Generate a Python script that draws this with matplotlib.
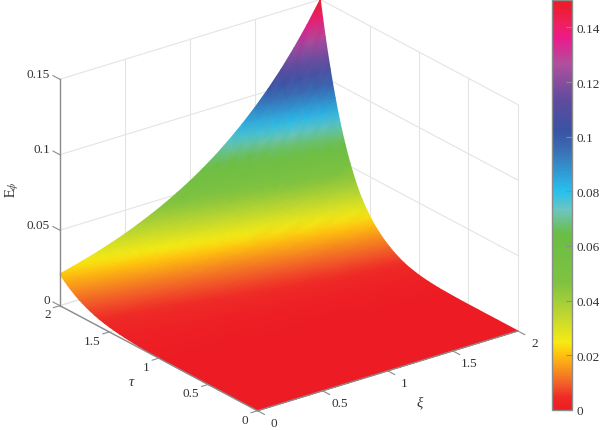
import numpy as np
import matplotlib
matplotlib.use("Agg")
import matplotlib.pyplot as plt
from matplotlib.cm import ScalarMappable
from matplotlib.colors import LinearSegmentedColormap, Normalize
from mpl_toolkits.mplot3d import proj3d

plt.rcParams['font.family'] = ['Liberation Serif', 'DejaVu Serif']
plt.rcParams['mathtext.fontset'] = 'stix'

# E along the back edge tau = 2
xi = [0, .1, .2, .3, .4, .5, .6, .7, .8, .9, 1, 1.1, 1.2, 1.3, 1.4, 1.5, 1.6, 1.7, 1.8, 1.9, 2]
e_back = [.021, .0232, .0256, .0282, .0311, .0343, .0379, .0418, .0461, .0509, .0561,
          .0619, .0683, .0754, .0832, .0918, .1013, .1117, .1233, .136, .15]

# share of that edge value reached at each tau
tau = [0, .2, .4, .6, .8, .9, 1, 1.1, 1.15, 1.2, 1.25, 1.3, 1.35, 1.4, 1.45, 1.5, 1.55, 1.6,
       1.65, 1.7, 1.725, 1.75, 1.775, 1.8, 1.825, 1.85, 1.875, 1.9, 1.925, 1.95, 1.975, 2]
tau_share = [0, 0, 0, .0004, .0035, .0075, .014, .025, .033, .043, .055, .07, .087, .107,
             .131, .16, .194, .2345, .2862, .3475, .382, .42, .46, .504, .551, .602, .657,
             .717, .78, .848, .921, 1]

xi_ticks = [0, .5, 1, 1.5, 2]
tau_ticks = [0, .5, 1, 1.5, 2]
z_ticks = [0, .05, .1, .15]
tick_names = ['0', '0.5', '1', '1.5', '2']
z_names = ['0', '0.05', '0.1', '0.15']
cbar_ticks = [0, .02, .04, .06, .08, .1, .12, .14]
cbar_names = ['0', '0.02', '0.04', '0.06', '0.08', '0.1', '0.12', '0.14']

# colormap
cmap_pos = [0, .03, .06, .1, .135, .165, .23, .31, .43, .488, .533, .633, .68, .755, .845, .907, .94, .985, 1]
cmap_col = ['#ed1c24', '#ee2a26', '#f15a29', '#f7941d', '#ffc20e', '#f6eb14', '#bfd730', '#7fc241',
            '#6abd45', '#6dc5c0', '#27c0ee', '#3a6fb5', '#3953a4', '#5f4b9e', '#b04f9e', '#ec1a8c',
            '#ee2060', '#ed1c30', '#ed1c24']
cmap = LinearSegmentedColormap.from_list('bands', list(zip(cmap_pos, cmap_col)), N=512)
norm = Normalize(0, .15)

grey = '#8c8c8c'
wall = '#e4e4e4'
text = '#333333'

fig = plt.figure(figsize=(6, 4.31), dpi=100)


def box_axes():
    ax = fig.add_axes([27.5 / 600, -36.5 / 431, 509 / 600, 509 / 431], projection='3d',
                      proj_type='ortho', computed_zorder=False)
    ax.set_box_aspect((1, 1, .757))
    ax.view_init(elev=23.8, azim=-127.2)
    ax.set_xlim(0, 2)
    ax.set_ylim(0, 2)
    ax.set_zlim(0, .15)
    ax.set_xticks([])
    ax.set_yticks([])
    ax.set_zticks([])
    ax.set_axis_off()
    ax.patch.set_alpha(0)
    return ax


back = box_axes()

# light grid on the two back walls and the floor
for t in xi_ticks:
    back.plot([t, t], [2, 2], [0, .15], color=wall, lw=.8)
    back.plot([t, t], [0, 2], [0, 0], color=wall, lw=.8)
for t in tau_ticks:
    back.plot([2, 2], [t, t], [0, .15], color=wall, lw=.8)
    back.plot([0, 2], [t, t], [0, 0], color=wall, lw=.8)
for t in z_ticks:
    back.plot([0, 2], [2, 2], [t, t], color=wall, lw=.8)
    back.plot([2, 2], [0, 2], [t, t], color=wall, lw=.8)

fig.canvas.draw()


def to_pixels(x, y, z):
    # where the box's own view puts a data point, in figure pixels
    px, py, _ = proj3d.proj_transform(np.ravel(x), np.ravel(y), np.ravel(z), back.get_proj())
    return back.transData.transform(np.column_stack([px, py]))


# overlay in pixel coordinates for the gouraud surface and the labels
flat = fig.add_axes([0, 0, 1, 1])
flat.set_xlim(0, 600)
flat.set_ylim(0, 431)
flat.set_xticks([])
flat.set_yticks([])
flat.set_axis_off()
flat.patch.set_alpha(0)

X, T = np.meshgrid(xi, tau)
Z = np.outer(tau_share, e_back)
screen = to_pixels(X, T, Z)
flat.pcolormesh(screen[:, 0].reshape(X.shape), screen[:, 1].reshape(X.shape), Z,
                shading='gouraud', cmap=cmap, norm=norm)


def label(x, y, z, s, ha):
    pos = to_pixels(x, y, z)[0]
    flat.text(pos[0], pos[1], s, ha=ha, va='center', fontsize=9.5, color=text)


# axis lines, ticks and tick labels
front = box_axes()
front.plot([0, 2], [0, 0], [0, 0], color=grey, lw=1)
front.plot([0, 0], [0, 2], [0, 0], color=grey, lw=1)
front.plot([0, 0], [2, 2], [0, .15], color=grey, lw=1)
for t, s in zip(xi_ticks, tick_names):
    front.plot([t, t], [0, -.07], [0, 0], color=grey, lw=.8)
    label(t, -.17, -.002, s, 'center')
for t, s in zip(tau_ticks, tick_names):
    front.plot([0, -.05], [t, t], [0, 0], color=grey, lw=.8)
    label(-.07, t, -.004, s, 'right')
for t, s in zip(z_ticks, z_names):
    front.plot([0, 0], [2, 2.07], [t, t], color=grey, lw=.8)
    label(0, 2.1, t, s, 'right')

fig.text(420 / 600, 1 - 403 / 431, 'ξ', style='italic', ha='center', va='center', fontsize=10.5, color=text)
fig.text(131 / 600, 1 - 382 / 431, 'τ', style='italic', ha='center', va='center', fontsize=10.5, color=text)
fig.text(12 / 600, 1 - 190 / 431, r'$\mathrm{E}_{\phi}$', rotation=90, ha='center', va='center',
         fontsize=10, color=text)

cax = fig.add_axes([552 / 600, 1 - 411 / 431, 20 / 600, 410 / 431])
cb = fig.colorbar(ScalarMappable(norm=norm, cmap=cmap), cax=cax, ticks=cbar_ticks)
cb.ax.set_yticklabels(cbar_names, fontsize=9.5, color=text)
cb.ax.tick_params(direction='in', length=4, width=.8, color=grey, pad=3)
cb.outline.set_edgecolor(grey)
cb.outline.set_linewidth(1)

fig.savefig('out.png', dpi=100)
